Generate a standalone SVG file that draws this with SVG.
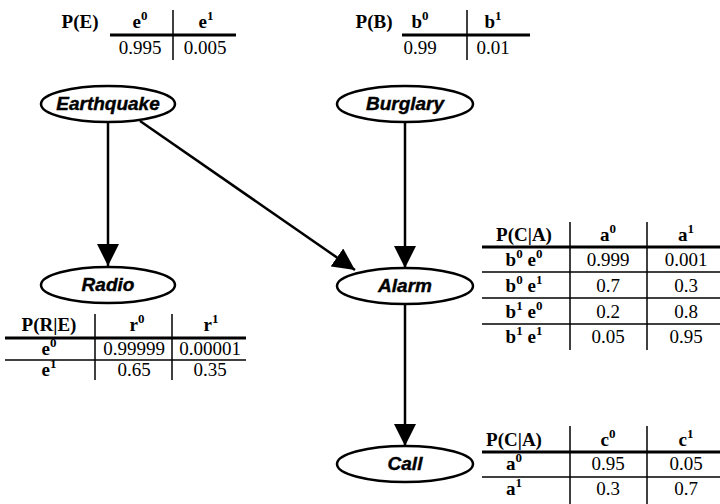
<svg xmlns="http://www.w3.org/2000/svg" width="720" height="504" viewBox="0 0 720 504">
  <style>
    .node { fill: #fff; stroke: #000; stroke-width: 2.5; }
    .lbl { font-family: "Liberation Sans", Arial, sans-serif; font-weight: bold; font-style: italic; font-size: 19px; text-anchor: middle; stroke: #000; stroke-width: 0.4; }
    .edge { stroke: #000; stroke-width: 2.5; fill: none; marker-end: url(#head); }
    .t { font-family: "Liberation Serif", "Times New Roman", serif; font-size: 19px; text-anchor: middle; fill: #000; }
    .b { font-weight: bold; }
    .thick { stroke: #000; stroke-width: 3; }
    .thin { stroke: #000; stroke-width: 1.5; }
    .sup { font-size: 13px; }
  </style>
  <defs>
    <marker id="head" viewBox="0 0 22 22" refX="22" refY="11" markerWidth="22" markerHeight="22" markerUnits="userSpaceOnUse" orient="auto">
      <path d="M0,0 L22,11 L0,22 z" fill="#000"/>
    </marker>
  </defs>
  <rect width="720" height="504" fill="#fff"/>

  <!-- connectors -->
  <g id="edges">
    <line class="edge" x1="108" y1="122" x2="108" y2="266"/>
    <line class="edge" x1="140" y1="121" x2="355" y2="270"/>
    <line class="edge" x1="405" y1="122" x2="405" y2="268"/>
    <line class="edge" x1="405" y1="304" x2="405" y2="446"/>
  </g>

  <!-- nodes -->
  <g id="earthquake">
    <ellipse class="node" cx="108" cy="104" rx="67" ry="18"/>
    <text class="lbl" x="108" y="110">Earthquake</text>
  </g>
  <g id="burglary">
    <ellipse class="node" cx="405" cy="104" rx="68" ry="18"/>
    <text class="lbl" x="405" y="110">Burglary</text>
  </g>
  <g id="radio">
    <ellipse class="node" cx="108" cy="285" rx="67" ry="18"/>
    <text class="lbl" x="108" y="291">Radio</text>
  </g>
  <g id="alarm">
    <ellipse class="node" cx="405" cy="286" rx="68" ry="18"/>
    <text class="lbl" x="405" y="292">Alarm</text>
  </g>
  <g id="call">
    <ellipse class="node" cx="405" cy="464" rx="68" ry="18"/>
    <text class="lbl" x="405" y="470">Call</text>
  </g>

  <!-- P(E) -->
  <g id="cpt-e">
    <text class="t b" x="80" y="28">P(E)</text>
    <text class="t b" x="140" y="28">e<tspan class="sup" dy="-8">0</tspan></text>
    <text class="t b" x="206" y="28">e<tspan class="sup" dy="-8">1</tspan></text>
    <line class="thick" x1="110" y1="35" x2="236" y2="35"/>
    <line class="thin" x1="173" y1="10" x2="173" y2="60"/>
    <text class="t" x="140" y="54">0.995</text>
    <text class="t" x="205" y="54">0.005</text>
  </g>

  <!-- P(B) -->
  <g id="cpt-b">
    <text class="t b" x="374" y="28">P(B)</text>
    <text class="t b" x="420" y="28">b<tspan class="sup" dy="-8">0</tspan></text>
    <text class="t b" x="493" y="28">b<tspan class="sup" dy="-8">1</tspan></text>
    <line class="thick" x1="402" y1="35" x2="530" y2="35"/>
    <line class="thin" x1="467" y1="10" x2="467" y2="60"/>
    <text class="t" x="420" y="54">0.99</text>
    <text class="t" x="493" y="54">0.01</text>
  </g>

  <!-- P(R|E) -->
  <g id="cpt-r">
    <text class="t b" x="49" y="331">P(R|E)</text>
    <text class="t b" x="137" y="331">r<tspan class="sup" dy="-8">0</tspan></text>
    <text class="t b" x="211" y="331">r<tspan class="sup" dy="-8">1</tspan></text>
    <line class="thick" x1="5" y1="338" x2="246" y2="338"/>
    <line class="thin" x1="95" y1="314" x2="95" y2="380"/>
    <line class="thin" x1="172" y1="314" x2="172" y2="380"/>
    <text class="t b" x="49" y="355">e<tspan class="sup" dy="-8">0</tspan></text>
    <text class="t" x="134" y="355">0.99999</text>
    <text class="t" x="210" y="355">0.00001</text>
    <line class="thin" x1="5" y1="360" x2="246" y2="360"/>
    <text class="t b" x="49" y="376">e<tspan class="sup" dy="-8">1</tspan></text>
    <text class="t" x="134" y="376">0.65</text>
    <text class="t" x="210" y="376">0.35</text>
  </g>

  <!-- P(A|B,E) -->
  <g id="cpt-a">
    <text class="t b" x="524" y="241">P(C|A)</text>
    <text class="t b" x="608" y="241">a<tspan class="sup" dy="-8">0</tspan></text>
    <text class="t b" x="686" y="241">a<tspan class="sup" dy="-8">1</tspan></text>
    <line class="thick" x1="482" y1="247" x2="720" y2="247"/>
    <line class="thin" x1="570" y1="222" x2="570" y2="350"/>
    <line class="thin" x1="647" y1="222" x2="647" y2="350"/>
    <text class="t b" x="524" y="266">b<tspan class="sup" dy="-8">0</tspan><tspan dy="8"> e</tspan><tspan class="sup" dy="-8">0</tspan></text>
    <text class="t" x="608" y="266">0.999</text>
    <text class="t" x="686" y="266">0.001</text>
    <line class="thin" x1="482" y1="272" x2="720" y2="272"/>
    <text class="t b" x="524" y="292">b<tspan class="sup" dy="-8">0</tspan><tspan dy="8"> e</tspan><tspan class="sup" dy="-8">1</tspan></text>
    <text class="t" x="608" y="292">0.7</text>
    <text class="t" x="686" y="292">0.3</text>
    <line class="thin" x1="482" y1="298" x2="720" y2="298"/>
    <text class="t b" x="524" y="318">b<tspan class="sup" dy="-8">1</tspan><tspan dy="8"> e</tspan><tspan class="sup" dy="-8">0</tspan></text>
    <text class="t" x="608" y="318">0.2</text>
    <text class="t" x="686" y="318">0.8</text>
    <line class="thin" x1="482" y1="324" x2="720" y2="324"/>
    <text class="t b" x="524" y="343">b<tspan class="sup" dy="-8">1</tspan><tspan dy="8"> e</tspan><tspan class="sup" dy="-8">1</tspan></text>
    <text class="t" x="608" y="343">0.05</text>
    <text class="t" x="686" y="343">0.95</text>
  </g>

  <!-- P(C|A) -->
  <g id="cpt-c">
    <text class="t b" x="514" y="446">P(C|A)</text>
    <text class="t b" x="608" y="446">c<tspan class="sup" dy="-8">0</tspan></text>
    <text class="t b" x="686" y="446">c<tspan class="sup" dy="-8">1</tspan></text>
    <line class="thick" x1="482" y1="452" x2="720" y2="452"/>
    <line class="thin" x1="570" y1="426" x2="570" y2="504"/>
    <line class="thin" x1="647" y1="426" x2="647" y2="504"/>
    <text class="t b" x="514" y="470">a<tspan class="sup" dy="-8">0</tspan></text>
    <text class="t" x="608" y="470">0.95</text>
    <text class="t" x="686" y="470">0.05</text>
    <line class="thin" x1="482" y1="477" x2="720" y2="477"/>
    <text class="t b" x="514" y="495">a<tspan class="sup" dy="-8">1</tspan></text>
    <text class="t" x="608" y="495">0.3</text>
    <text class="t" x="686" y="495">0.7</text>
  </g>
</svg>
